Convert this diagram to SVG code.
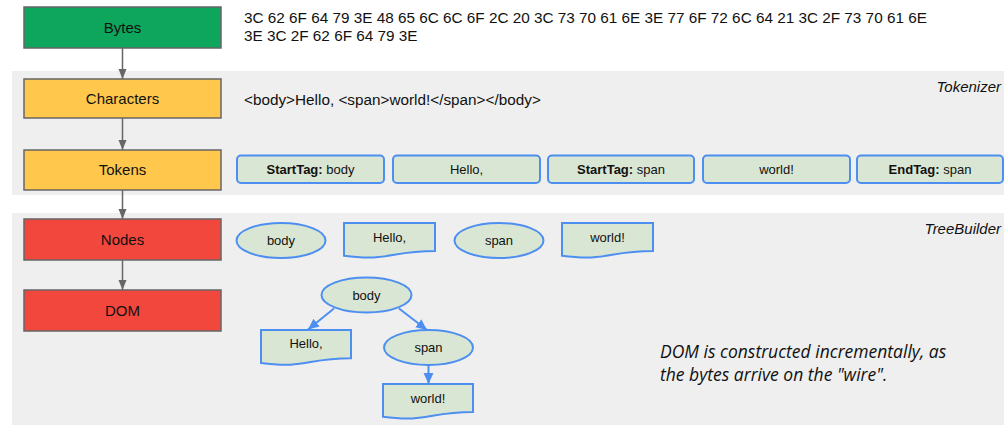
<svg xmlns="http://www.w3.org/2000/svg" width="1004" height="426" viewBox="0 0 1004 426">
<style>
text{font-family:"Liberation Sans",Arial,sans-serif;fill:#111}
.stage{stroke:#666;stroke-width:1.5}
.lbl{font-size:15px;text-anchor:middle}
.mono{font-size:15.3px}
.tok{fill:#d9e6d3;stroke:#4d8ff0;stroke-width:2}
.t13{font-size:13px;text-anchor:middle}
.b{font-weight:bold}
.it{font-style:italic;font-size:15px;text-anchor:end}
.gl{stroke:#666;stroke-width:1.5;fill:none}
.bl{stroke:#4d8ff0;stroke-width:2;fill:none}
.note{font-family:"Open Sans",sans-serif;font-style:italic;font-size:17.5px}
</style>
<defs>
<marker id="ag" markerUnits="userSpaceOnUse" markerWidth="10" markerHeight="10" viewBox="0 0 10 10" refX="10" refY="5" orient="auto"><path d="M0,1 L10,5 L0,9 Z" fill="#666"/></marker>
<marker id="ab" markerUnits="userSpaceOnUse" markerWidth="11" markerHeight="11" viewBox="0 0 10 10" refX="10" refY="5" orient="auto"><path d="M0,0.5 L10,5 L0,9.5 Z" fill="#4d8ff0"/></marker>
</defs>
<rect width="1004" height="426" fill="#fff"/>
<g id="bands">
<rect x="12" y="71" width="992" height="124" fill="#efefef"/>
<rect x="12" y="213" width="992" height="212" fill="#efefef"/>
<text class="it" x="1001" y="92">Tokenizer</text>
<text class="it" x="1001" y="234">TreeBuilder</text>
</g>
<g id="connectors">
<line class="gl" x1="122.5" y1="48" x2="122.5" y2="79" marker-end="url(#ag)"/>
<line class="gl" x1="122.5" y1="118" x2="122.5" y2="150" marker-end="url(#ag)"/>
<line class="gl" x1="122.5" y1="190" x2="122.5" y2="219" marker-end="url(#ag)"/>
<line class="gl" x1="122.5" y1="260" x2="122.5" y2="290" marker-end="url(#ag)"/>
<line class="bl" x1="334" y1="308.5" x2="308" y2="329.5" marker-end="url(#ab)"/>
<line class="bl" x1="399" y1="308.5" x2="427" y2="330" marker-end="url(#ab)"/>
<line class="bl" x1="428.5" y1="365" x2="428.5" y2="384" marker-end="url(#ab)"/>
</g>
<g id="bytes">
<rect class="stage" x="24" y="7" width="197" height="41" fill="#0ea55c"/>
<text class="lbl" x="122.5" y="33">Bytes</text>
<text class="mono" x="244" y="23">3C 62 6F 64 79 3E 48 65 6C 6C 6F 2C 20 3C 73 70 61 6E 3E 77 6F 72 6C 64 21 3C 2F 73 70 61 6E</text>
<text class="mono" x="244" y="41">3E 3C 2F 62 6F 64 79 3E</text>
</g>
<g id="characters">
<rect class="stage" x="24" y="79" width="197" height="39" fill="#ffc84c"/>
<text class="lbl" x="122.5" y="104">Characters</text>
<text class="mono" x="244" y="105">&lt;body&gt;Hello, &lt;span&gt;world!&lt;/span&gt;&lt;/body&gt;</text>
</g>
<g id="tokens">
<rect class="stage" x="24" y="150" width="197" height="40" fill="#ffc84c"/>
<text class="lbl" x="122.5" y="175">Tokens</text>
</g>
<g id="tok1"><rect class="tok" x="237" y="155.5" width="147" height="27.5" rx="4"/><text class="t13" x="310.5" y="174"><tspan class="b">StartTag:</tspan> body</text></g>
<g id="tok2"><rect class="tok" x="393" y="155.5" width="147" height="27.5" rx="4"/><text class="t13" x="466.5" y="174">Hello,</text></g>
<g id="tok3"><rect class="tok" x="548" y="155.5" width="146" height="27.5" rx="4"/><text class="t13" x="621" y="174"><tspan class="b">StartTag:</tspan> span</text></g>
<g id="tok4"><rect class="tok" x="703" y="155.5" width="147" height="27.5" rx="4"/><text class="t13" x="776.5" y="174">world!</text></g>
<g id="tok5"><rect class="tok" x="857" y="155.5" width="146" height="27.5" rx="4"/><text class="t13" x="930" y="174"><tspan class="b">EndTag:</tspan> span</text></g>
<g id="nodes">
<rect class="stage" x="24" y="219" width="197" height="41" fill="#f2473c"/>
<text class="lbl" x="122.5" y="245">Nodes</text>
</g>
<g id="n-body"><ellipse class="tok" cx="281" cy="240.5" rx="44.5" ry="17.5"/><text class="t13" x="281" y="245">body</text></g>
<g id="n-hello"><path class="tok" d="M344,223 H435 V251 C389.5,251 389.5,261.7 344,255.7 Z"/><text class="t13" x="389.5" y="241.5">Hello,</text></g>
<g id="n-span"><ellipse class="tok" cx="499" cy="240.5" rx="44.5" ry="17.5"/><text class="t13" x="499" y="245">span</text></g>
<g id="n-world"><path class="tok" d="M562,223 H653 V251 C607.5,251 607.5,261.7 562,255.7 Z"/><text class="t13" x="607.5" y="241.5">world!</text></g>
<g id="dom">
<rect class="stage" x="24" y="290" width="197" height="41" fill="#f2473c"/>
<text class="lbl" x="122.5" y="316">DOM</text>
</g>
<g id="d-body"><ellipse class="tok" cx="366.5" cy="295" rx="45" ry="17.5"/><text class="t13" x="366.5" y="299.5">body</text></g>
<g id="d-hello"><path class="tok" d="M261,330 H351 V358.3 C306,358.3 306,369 261,363 Z"/><text class="t13" x="306" y="348">Hello,</text></g>
<g id="d-span"><ellipse class="tok" cx="428.5" cy="347.5" rx="44.5" ry="17.5"/><text class="t13" x="428.5" y="352">span</text></g>
<g id="d-world"><path class="tok" d="M383,384 H473 V412 C428,412 428,422.7 383,416.7 Z"/><text class="t13" x="428" y="403">world!</text></g>
<g id="note">
<text class="note" x="660" y="358">DOM is constructed incrementally, as</text>
<text class="note" x="660" y="381">the bytes arrive on the "wire".</text>
</g>
</svg>
